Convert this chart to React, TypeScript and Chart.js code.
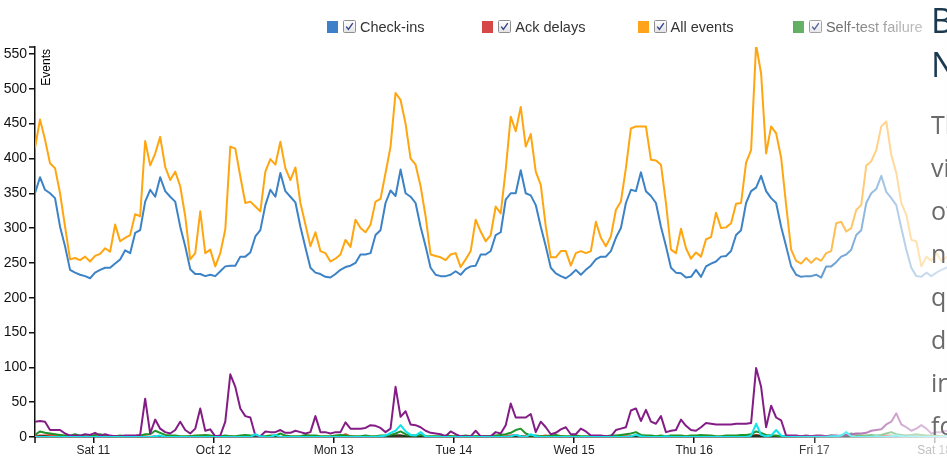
import React, { useEffect, useRef } from "react";
import { Chart, registerables } from "chart.js";
Chart.register(...registerables);

// Hour-by-hour values, starting Fri Oct 10 ~12:20
const dayLabels = ["Sat 11", "Oct 12", "Mon 13", "Tue 14", "Wed 15", "Thu 16", "Fri 17", "Sat 18"];
const dayTickHours = [11.64, 35.64, 59.64, 83.64, 107.64, 131.64, 155.64, 179.64];

const allEvents = [
  415, 456, 427, 393, 386, 350, 302, 255, 257, 254,
  259, 252, 260, 263, 271, 266, 305, 281, 286, 290,
  320, 317, 425, 390, 407, 431, 388, 369, 381, 360,
  317, 255, 264, 324, 264, 269, 245, 264, 298, 417,
  414, 374, 336, 338, 331, 324, 381, 399, 391, 424,
  386, 369, 387, 336, 305, 274, 294, 267, 264, 252,
  256, 262, 283, 273, 312, 300, 294, 305, 338, 342,
  379, 417, 494, 484, 450, 400, 391, 360, 317, 262,
  260, 258, 254, 262, 264, 244, 255, 267, 312, 295,
  281, 290, 331, 321, 384, 460, 439, 474, 417, 435,
  381, 362, 302, 258, 258, 267, 267, 246, 264, 267,
  264, 267, 309, 286, 274, 288, 326, 338, 386, 443,
  446, 446, 446, 398, 397, 391, 336, 269, 264, 299,
  271, 256, 265, 259, 284, 287, 322, 300, 301, 307,
  335, 336, 394, 412, 563, 522, 407, 446, 436, 401,
  333, 269, 253, 249, 257, 250, 257, 253, 264, 267,
  307, 309, 295, 300, 326, 333, 390, 396, 412, 446,
  453, 405, 379, 336, 319, 283, 281, 245, 259, 253,
  264, 253, 258, 262,
];

const checkIns = [
  350, 373, 355, 350, 343, 302, 274, 240, 236, 233,
  231, 228, 236, 240, 243, 243, 249, 255, 268, 264,
  293, 297, 338, 355, 345, 373, 353, 345, 338, 302,
  274, 241, 234, 234, 231, 233, 231, 238, 245, 246,
  246, 259, 259, 265, 288, 297, 333, 355, 345, 379,
  353, 345, 337, 302, 272, 243, 236, 234, 230, 229,
  234, 240, 244, 246, 250, 262, 262, 264, 290, 297,
  336, 354, 346, 384, 350, 345, 336, 302, 274, 243,
  233, 231, 231, 233, 238, 233, 241, 245, 246, 262,
  262, 267, 290, 294, 341, 350, 350, 383, 350, 347,
  333, 302, 274, 243, 235, 231, 228, 233, 240, 233,
  240, 246, 255, 259, 259, 267, 286, 300, 336, 355,
  353, 380, 353, 346, 336, 302, 274, 243, 236, 235,
  229, 230, 240, 230, 245, 249, 252, 259, 260, 267,
  290, 297, 336, 353, 358, 375, 353, 343, 336, 302,
  274, 245, 233, 230, 231, 231, 233, 229, 245, 245,
  251, 259, 262, 269, 290, 297, 336, 350, 356, 375,
  352, 343, 333, 300, 269, 243, 231, 230, 236, 231,
  236, 240, 243, 246,
];

const alarms = [
  22, 23, 22, 10, 10, 10, 5, 2, 2, 2,
  4, 3, 6, 2, 4, 2, 1, 1, 2, 2,
  2, 3, 55, 5, 25, 12, 7, 5, 10, 22,
  10, 5, 12, 41, 9, 11, 1, 2, 22, 90,
  72, 41, 30, 28, 2, 1, 8, 7, 7, 10,
  6, 6, 9, 7, 5, 7, 30, 7, 7, 5,
  7, 7, 21, 12, 12, 12, 13, 17, 16, 13,
  7, 12, 72, 29, 37, 18, 17, 14, 9, 6,
  5, 4, 1, 8, 4, 1, 1, 1, 9, 1,
  1, 1, 7, 5, 17, 48, 28, 28, 28, 33,
  7, 22, 14, 4, 6, 11, 14, 4, 4, 12,
  8, 2, 2, 2, 1, 1, 10, 12, 14, 38,
  41, 23, 39, 22, 19, 30, 7, 9, 10, 25,
  16, 10, 9, 14, 20, 19, 18, 18, 18, 18,
  19, 19, 19, 20, 99, 72, 14, 45, 28, 24,
  2, 2, 2, 1, 2, 1, 2, 2, 1, 2,
  2, 1, 3, 4, 5, 5, 6, 9, 10, 11,
  18, 22, 34, 18, 14, 9, 12, 17, 12, 5,
  7, 7, 9, 7,
];

const selfTestFailure = [
  3, 8, 6, 5, 4, 3, 2, 2, 4, 2,
  1, 1, 3, 4, 2, 1, 1, 2, 1, 1,
  1, 2, 4, 4, 9, 6, 3, 2, 2, 1,
  1, 1, 2, 2, 3, 2, 1, 1, 2, 1,
  1, 2, 3, 2, 2, 1, 1, 2, 2, 5,
  2, 1, 1, 1, 3, 2, 2, 1, 1, 1,
  2, 3, 2, 1, 1, 1, 2, 1, 1, 2,
  2, 3, 5, 8, 4, 2, 2, 3, 1, 1,
  1, 1, 2, 1, 1, 1, 2, 1, 1, 1,
  1, 1, 2, 3, 4, 6, 10, 12, 5, 2,
  2, 1, 1, 2, 3, 1, 1, 1, 2, 1,
  1, 1, 1, 1, 1, 2, 2, 3, 4, 5,
  7, 3, 2, 2, 1, 2, 1, 2, 2, 2,
  1, 2, 2, 3, 2, 2, 1, 1, 2, 2,
  2, 3, 3, 4, 8, 6, 3, 2, 2, 1,
  1, 1, 1, 1, 1, 1, 1, 1, 1, 2,
  1, 2, 3, 5, 3, 2, 2, 3, 2, 3,
  5, 7, 4, 3, 2, 3, 4, 3, 2, 2,
  2, 1, 2, 1,
];

const ackDelays = [
  1, 2, 2, 3, 3, 2, 1, 0, 0, 1,
  0, 0, 1, 0, 0, 0, 1, 0, 0, 0,
  0, 0, 1, 0, 1, 1, 0, 0, 0, 0,
  0, 1, 1, 2, 1, 0, 0, 0, 0, 1,
  0, 0, 0, 1, 0, 0, 0, 1, 0, 0,
  1, 0, 0, 0, 0, 1, 0, 0, 0, 0,
  0, 1, 4, 1, 0, 0, 1, 0, 0, 0,
  1, 1, 2, 2, 1, 0, 0, 1, 0, 0,
  0, 0, 0, 1, 0, 0, 0, 0, 1, 0,
  0, 0, 0, 1, 1, 2, 3, 1, 1, 0,
  0, 1, 2, 1, 0, 1, 0, 0, 0, 0,
  0, 0, 0, 1, 0, 0, 0, 1, 1, 1,
  2, 1, 0, 1, 0, 0, 1, 0, 0, 0,
  0, 0, 1, 1, 2, 1, 0, 0, 1, 0,
  1, 1, 1, 2, 3, 2, 1, 1, 1, 0,
  0, 0, 0, 0, 0, 0, 0, 0, 0, 1,
  0, 0, 1, 1, 1, 0, 0, 1, 0, 1,
  2, 2, 1, 1, 0, 1, 1, 0, 0, 0,
  1, 0, 0, 1,
];

const reconnects = [
  0, 0, 0, 0, 0, 0, 0, 0, 0, 0,
  0, 0, 0, 0, 0, 0, 0, 0, 0, 0,
  0, 0, 0, 0, 1, 2, 0, 0, 0, 0,
  0, 0, 0, 0, 0, 0, 0, 0, 0, 0,
  0, 0, 0, 0, 4, 1, 0, 0, 3, 0,
  0, 0, 0, 0, 0, 0, 0, 0, 0, 0,
  0, 0, 0, 0, 0, 0, 0, 0, 0, 1,
  2, 6, 9, 17, 8, 3, 2, 7, 1, 0,
  0, 0, 0, 0, 0, 0, 0, 0, 0, 0,
  0, 0, 0, 0, 0, 1, 3, 1, 0, 4,
  1, 0, 0, 0, 0, 0, 0, 0, 0, 0,
  0, 0, 0, 0, 0, 0, 0, 0, 0, 1,
  3, 1, 0, 0, 0, 0, 1, 0, 0, 0,
  0, 0, 0, 0, 0, 0, 0, 0, 0, 0,
  0, 0, 0, 2, 19, 3, 1, 2, 10, 2,
  0, 0, 0, 0, 0, 0, 0, 0, 0, 1,
  1, 2, 7, 1, 0, 0, 0, 0, 1, 0,
  0, 1, 2, 1, 0, 1, 0, 0, 0, 0,
  0, 0, 1, 0,
];

const lowBattery = [
  0, 1, 1, 0, 0, 0, 0, 0, 0, 0,
  0, 0, 0, 0, 0, 0, 0, 0, 0, 0,
  0, 0, 0, 0, 0, 0, 0, 0, 0, 0,
  0, 0, 0, 0, 0, 0, 0, 0, 0, 0,
  0, 0, 0, 0, 0, 0, 0, 0, 0, 0,
  0, 0, 0, 0, 0, 0, 0, 0, 0, 0,
  0, 0, 0, 0, 0, 0, 0, 0, 0, 0,
  0, 1, 2, 2, 1, 1, 0, 1, 0, 0,
  0, 0, 0, 0, 0, 0, 0, 0, 0, 0,
  0, 0, 0, 0, 0, 0, 0, 1, 0, 0,
  0, 0, 0, 0, 0, 0, 0, 0, 0, 0,
  0, 0, 0, 0, 0, 0, 0, 0, 0, 0,
  1, 0, 0, 0, 0, 0, 0, 0, 0, 0,
  0, 0, 0, 0, 0, 0, 0, 0, 0, 0,
  0, 0, 1, 1, 2, 1, 1, 1, 0, 0,
  0, 0, 0, 0, 0, 0, 0, 0, 0, 0,
  0, 0, 0, 0, 0, 0, 0, 0, 0, 0,
  0, 0, 0, 0, 0, 0, 0, 0, 0, 0,
  0, 0, 0, 0,
];

const legendItems = [
  { label: "Check-ins", color: "#3b80c8" },
  { label: "Ack delays", color: "#d64848" },
  { label: "All events", color: "#ffa31a" },
  { label: "Self-test failure", color: "#55a855" },
];

const headingLines = ["Bursty traffic at", "Night and day"];
const bodyLines = [
  "The chart above",
  "visualizes the volume",
  "of events every hour,",
  "nightly lows and daily",
  "quiet periods make it",
  "dead simple to spot",
  "incidents, for example",
  "for Thursday evening.",
];

const toPoints = (arr: number[]) => arr.map((v, i) => ({ x: i, y: v }));

const axisExtras = {
  id: "axisExtras",
  afterDraw(chart: any) {
    const { ctx, chartArea } = chart;
    const { left, top, bottom } = chartArea;
    ctx.save();
    ctx.strokeStyle = "#111";
    ctx.lineWidth = 1.5;
    ctx.beginPath();
    ctx.moveTo(left - 6, top);
    ctx.lineTo(left, top);
    ctx.moveTo(left, bottom);
    ctx.lineTo(left, bottom + 6);
    ctx.stroke();
    ctx.translate(left + 5.5, top + 2);
    ctx.rotate(-Math.PI / 2);
    ctx.font = "12px 'Liberation Sans', Arial, sans-serif";
    ctx.fillStyle = "#000";
    ctx.textAlign = "right";
    ctx.textBaseline = "top";
    ctx.fillText("Events", 0, 0);
    ctx.restore();
  },
};

function CheckBox() {
  return (
    <svg width="13" height="13" viewBox="0 0 13 13" style={{ display: "block" }}>
      <defs>
        <linearGradient id="cbg" x1="0" y1="0" x2="0" y2="1">
          <stop offset="0" stopColor="#ffffff" />
          <stop offset="1" stopColor="#e2e2e2" />
        </linearGradient>
      </defs>
      <rect x="0.5" y="0.5" width="12" height="12" rx="1" fill="url(#cbg)" stroke="#8e8e8e" />
      <path d="M3.2 6.6 L5.4 9.4 L9.8 3.2" fill="none" stroke="#34438c" strokeWidth="1.4" />
    </svg>
  );
}

export default function App() {
  const canvasRef = useRef<HTMLCanvasElement | null>(null);

  useEffect(() => {
    if (!canvasRef.current) return;
    const line = (label: string, data: number[], color: string, width = 2) => ({
      label,
      data: toPoints(data),
      borderColor: color,
      backgroundColor: color,
      borderWidth: width,
      pointRadius: 0,
      tension: 0,
      fill: false,
      borderJoinStyle: "round" as const,
    });
    const chart = new Chart(canvasRef.current, {
      type: "line",
      data: {
        datasets: [
          line("Reconnects", reconnects, "#12e4ee"),
          line("Alarms", alarms, "#841c86"),
          line("Self-test failure", selfTestFailure, "#22932a"),
          line("Low battery", lowBattery, "#1d3a1d"),
          line("Ack delays", ackDelays, "#e5463a"),
          line("All events", allEvents, "#ffa50f"),
          line("Check-ins", checkIns, "#3c82c6"),
        ],
      },
      options: {
        animation: false,
        responsive: false,
        events: [],
        layout: { padding: { top: 47, left: 0, right: 0, bottom: 0 } },
        plugins: { legend: { display: false }, tooltip: { enabled: false } },
        scales: {
          x: {
            type: "linear",
            min: 0,
            max: 196.7,
            afterBuildTicks: (s: any) => {
              s.ticks = dayTickHours.map((v) => ({ value: v }));
            },
            afterFit: (s: any) => {
              s.height = 21;
            },
            ticks: {
              autoSkip: false,
              maxRotation: 0,
              padding: 0,
              color: "#222",
              font: { size: 12, family: "'Liberation Sans', Arial, sans-serif" },
              callback: (_v: any, i: number) => dayLabels[i],
            },
            grid: { drawOnChartArea: false, drawTicks: true, tickLength: 6, color: "#111", lineWidth: 1.5 },
            border: { display: true, color: "#111", width: 1.5 },
          },
          y: {
            min: 0,
            max: 560,
            afterFit: (s: any) => {
              s.width = 55;
            },
            ticks: {
              stepSize: 50,
              includeBounds: false,
              padding: 2,
              color: "#111",
              font: { size: 14, family: "'Liberation Sans', Arial, sans-serif" },
            },
            grid: { drawOnChartArea: false, drawTicks: true, tickLength: 6, color: "#111", lineWidth: 1.5 },
            border: { display: true, color: "#111", width: 1.5 },
          },
        },
      },
      plugins: [axisExtras],
    } as any);
    return () => chart.destroy();
  }, []);

  return (
    <div
      style={{
        position: "fixed",
        left: 0,
        top: 0,
        width: 947,
        height: 458,
        overflow: "hidden",
        background: "#fff",
      }}
    >
      <canvas
        ref={canvasRef}
        width={1040}
        height={458}
        style={{ position: "absolute", left: -20, top: 0, width: 1040, height: 458 }}
      />
      {legendItems.map((it, k) => {
        const left = 327 + 155.3 * k;
        return (
          <div key={it.label} style={{ position: "absolute", left, top: 0 }}>
            <div style={{ position: "absolute", left: 0, top: 21, width: 11, height: 12, background: it.color }} />
            <div style={{ position: "absolute", left: 16, top: 20 }}>
              <CheckBox />
            </div>
            <div
              style={{
                position: "absolute",
                left: 33,
                top: 20,
                fontFamily: "'Liberation Sans', Arial, sans-serif",
                fontSize: 14.5,
                lineHeight: "14.5px",
                color: "#333",
                whiteSpace: "nowrap",
              }}
            >
              {it.label}
            </div>
          </div>
        );
      })}
      <div
        style={{
          position: "absolute",
          left: 780,
          top: 0,
          width: 167,
          height: 458,
          pointerEvents: "none",
          background:
            "linear-gradient(to right, rgba(255,255,255,0) 0px, rgba(255,255,255,0.3) 60px, rgba(255,255,255,0.62) 120px, rgba(255,255,255,0.78) 167px)",
        }}
      />
      <div
        style={{
          position: "absolute",
          left: 931,
          top: -2,
          fontFamily: "'Open Sans', 'Noto Sans', sans-serif",
          whiteSpace: "nowrap",
        }}
      >
        {headingLines.map((t) => (
          <div key={t} style={{ fontSize: 34, lineHeight: "44px", color: "#1b3a50" }}>
            {t}
          </div>
        ))}
        <div style={{ marginTop: 17 }}>
          {bodyLines.map((t) => (
            <div key={t} style={{ fontSize: 25, lineHeight: "43px", color: "#6a6a6a" }}>
              {t}
            </div>
          ))}
        </div>
      </div>
    </div>
  );
}
